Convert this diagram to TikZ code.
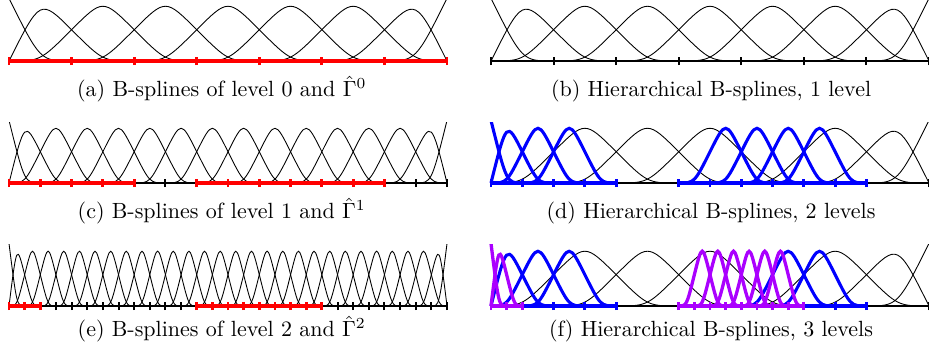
\documentclass[tikz,border=0pt]{standalone}

\definecolor{hpurple}{RGB}{170,0,255}

\tikzset{
  fine/.style={black, line width=0.4pt},
  lvlone/.style={blue, line width=1.4pt},
  lvltwo/.style={hpurple, line width=1.5pt},
  baseaxis/.style={black, line width=0.9pt},
  markaxis/.style={line width=1.5pt},
  basetick/.style={black, line width=0.9pt},
  marktick/.style={line width=1.3pt},
  subcap/.style={anchor=base, inner sep=0pt, font=\fontsize{10}{12}\selectfont}
}

% quadratic B-splines as Bezier pieces (knot units, height 1 = 1cm)
\newcommand{\bmid}[2]{\draw[#1] (#2,0) .. controls ({#2+0.5},0) .. ({#2+1},0.5) .. controls ({#2+1.5},1) .. ({#2+2},0.5) .. controls ({#2+2.5},0) .. ({#2+3},0);}
\newcommand{\bfirst}[1]{\draw[#1] (0,1) .. controls (0.5,0) .. (1,0);}
\newcommand{\bsecond}[1]{\draw[#1] (0,0) .. controls (0.5,1) .. (1,0.5) .. controls (1.5,0) .. (2,0);}
\newcommand{\bprelast}[2]{\draw[#1] (#2,0) .. controls ({#2-0.5},1) .. ({#2-1},0.5) .. controls ({#2-1.5},0) .. ({#2-2},0);}
\newcommand{\blast}[2]{\draw[#1] (#2,1) .. controls ({#2-0.5},0) .. ({#2-1},0);}
\newcommand{\tck}[2]{\draw[#1] (#2,-0.065) -- (#2,0.065);}

\begin{document}
\begin{tikzpicture}
  \useasboundingbox (-0.144,-4.70) rectangle (14.703,0.975);

  % (a) level 0
  \begin{scope}
    \clip (-0.2,-0.2) rectangle (7.2,0.975);
    \bfirst{fine} \bsecond{fine}
    \foreach \k in {0,...,4} {\bmid{fine}{\k}}
    \bprelast{fine}{7} \blast{fine}{7}
    \draw[markaxis, red] (0,0) -- (7,0);
    \foreach \k in {0,...,7} {\tck{marktick, red}{\k}}
  \end{scope}
  \node[subcap] (capa) at (3.40,-0.57) {(a) B-splines of level 0 and $\hat{\Gamma}^0$};

  % (b) hierarchical, 1 level
  \begin{scope}[xshift=7.703cm]
    \clip (-0.2,-0.2) rectangle (7.2,0.975);
    \bfirst{fine} \bsecond{fine}
    \foreach \k in {0,...,4} {\bmid{fine}{\k}}
    \bprelast{fine}{7} \blast{fine}{7}
    \draw[baseaxis] (0,0) -- (7,0);
    \foreach \k in {0,...,7} {\tck{basetick}{\k}}
  \end{scope}
  \node[subcap] (capb) at (11.22,-0.57) {(b) Hierarchical B-splines, 1 level};

  % (c) level 1
  \begin{scope}[yshift=-1.95cm]
    \clip (-0.2,-0.2) rectangle (7.2,0.975);
    \begin{scope}[xscale=0.5]
      \bfirst{fine} \bsecond{fine}
      \foreach \k in {0,...,11} {\bmid{fine}{\k}}
      \bprelast{fine}{14} \blast{fine}{14}
      \draw[baseaxis] (0,0) -- (14,0);
      \draw[markaxis, red] (0,0) -- (4,0) (6,0) -- (12,0);
      \foreach \k in {5,13,14} {\tck{basetick}{\k}}
      \foreach \k in {0,1,2,3,4,6,7,8,9,10,11,12} {\tck{marktick, red}{\k}}
    \end{scope}
  \end{scope}
  \node[subcap] (capc) at (3.40,-2.52) {(c) B-splines of level 1 and $\hat{\Gamma}^1$};

  % (d) hierarchical, 2 levels
  \begin{scope}[xshift=7.703cm, yshift=-1.95cm]
    \clip (-0.2,-0.2) rectangle (7.2,0.975);
    \foreach \k in {0,1,2,4} {\bmid{fine}{\k}}
    \bprelast{fine}{7} \blast{fine}{7}
    \begin{scope}[xscale=0.5]
      \bfirst{lvlone} \bsecond{lvlone}
      \foreach \k in {0,1,6,7,8,9} {\bmid{lvlone}{\k}}
    \end{scope}
    \draw[baseaxis] (0,0) -- (7,0);
    \tck{basetick}{7}
    \begin{scope}[xscale=0.5]
      \draw[markaxis, blue] (0,0) -- (4,0) (6,0) -- (12,0);
      \foreach \k in {0,1,2,3,4,6,7,8,9,10,11,12} {\tck{marktick, blue}{\k}}
    \end{scope}
  \end{scope}
  \node[subcap] (capd) at (11.22,-2.52) {(d) Hierarchical B-splines, 2 levels};

  % (e) level 2
  \begin{scope}[yshift=-3.915cm]
    \clip (-0.2,-0.2) rectangle (7.2,0.975);
    \begin{scope}[xscale=0.25]
      \bfirst{fine} \bsecond{fine}
      \foreach \k in {0,...,25} {\bmid{fine}{\k}}
      \bprelast{fine}{28} \blast{fine}{28}
      \draw[baseaxis] (0,0) -- (28,0);
      \draw[markaxis, red] (0,0) -- (2,0) (12,0) -- (20,0);
      \foreach \k in {3,...,11} {\tck{basetick}{\k}}
      \foreach \k in {21,...,28} {\tck{basetick}{\k}}
      \foreach \k in {0,1,2} {\tck{marktick, red}{\k}}
      \foreach \k in {12,...,20} {\tck{marktick, red}{\k}}
    \end{scope}
  \end{scope}
  \node[subcap] (cape) at (3.40,-4.41) {(e) B-splines of level 2 and $\hat{\Gamma}^2$};

  % (f) hierarchical, 3 levels
  \begin{scope}[xshift=7.703cm, yshift=-3.915cm]
    \clip (-0.2,-0.2) rectangle (7.2,0.975);
    \foreach \k in {0,1,2,4} {\bmid{fine}{\k}}
    \bprelast{fine}{7} \blast{fine}{7}
    \begin{scope}[xscale=0.5]
      \bsecond{lvlone}
      \foreach \k in {0,1,8,9} {\bmid{lvlone}{\k}}
    \end{scope}
    \begin{scope}[xscale=0.25]
      \bfirst{lvltwo} \bsecond{lvltwo}
      \foreach \k in {12,...,17} {\bmid{lvltwo}{\k}}
    \end{scope}
    \draw[baseaxis] (0,0) -- (7,0);
    \tck{basetick}{7}
    \begin{scope}[xscale=0.5]
      \draw[markaxis, blue] (1,0) -- (4,0) (10,0) -- (12,0);
      \foreach \k in {2,3,4,11,12} {\tck{marktick, blue}{\k}}
    \end{scope}
    \begin{scope}[xscale=0.25]
      \draw[markaxis, hpurple] (0,0) -- (2,0) (12,0) -- (20,0);
      \foreach \k in {0,1,2,12,13,14,15,16,17,18,19,20} {\tck{marktick, hpurple}{\k}}
    \end{scope}
  \end{scope}
  \node[subcap] (capf) at (11.22,-4.41) {(f) Hierarchical B-splines, 3 levels};
\end{tikzpicture}
\end{document}
